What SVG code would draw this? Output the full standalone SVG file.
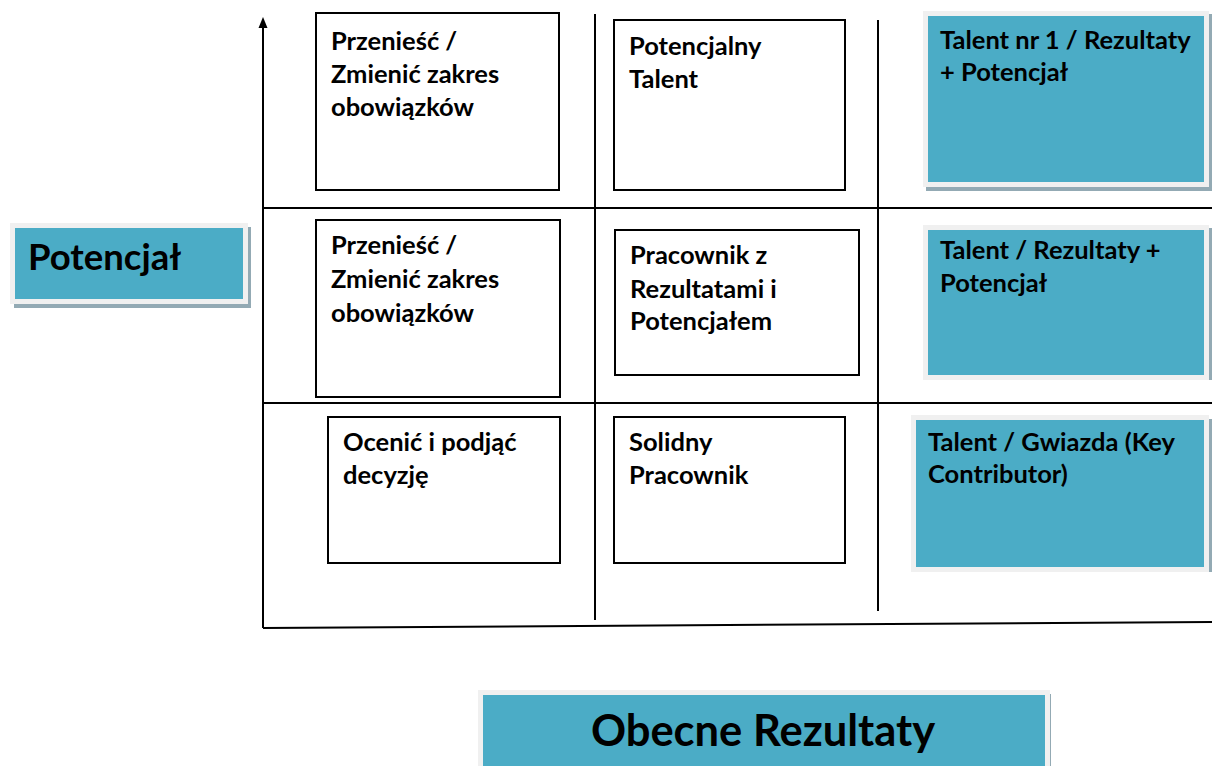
<svg xmlns="http://www.w3.org/2000/svg" width="1212" height="766" viewBox="0 0 1212 766">
<style>
.grid{stroke:#000;stroke-width:2;fill:none}
.box{fill:#fff;stroke:#000;stroke-width:2}
.blue{fill:#4bacc6;stroke:#f0f0f0;stroke-width:5}
.shadow{fill:#93aab4}
.t{font-family:Lato,"Noto Sans",sans-serif;font-weight:bold;font-size:25.5px;fill:#000}
.big{font-family:Lato,"Noto Sans",sans-serif;font-weight:bold;font-size:36.5px;fill:#000}
.huge{font-family:Lato,"Noto Sans",sans-serif;font-weight:bold;font-size:43.5px;fill:#000}
</style>
<rect width="1212" height="766" fill="#fff"/>
<g id="connectors">
<line class="grid" x1="263" y1="628" x2="263" y2="26"/>
<polygon points="263,17 258.5,28 267.5,28" fill="#000"/>
<line class="grid" x1="263" y1="628" x2="1212" y2="622"/>
<line class="grid" x1="263" y1="208" x2="1212" y2="208"/>
<line class="grid" x1="263" y1="403" x2="1212" y2="403"/>
<line class="grid" x1="595" y1="14" x2="595" y2="620"/>
<line class="grid" x1="878" y1="20" x2="878" y2="611"/>
</g>
<g id="n1"><rect class="box" x="316" y="13" width="243" height="177"/>
<text class="t" x="331" y="50">Przenieść /</text><text class="t" x="331" y="83">Zmienić zakres</text><text class="t" x="331" y="116">obowiązków</text></g>
<g id="n2"><rect class="box" x="614" y="20" width="231" height="170"/>
<text class="t" x="629" y="55">Potencjalny</text><text class="t" x="629" y="88">Talent</text></g>
<g id="n3"><rect class="shadow" x="926" y="14" width="286" height="177"/><rect class="blue" x="925.5" y="13.5" width="281" height="171"/>
<text class="t" x="940" y="49">Talent nr 1 / Rezultaty</text><text class="t" x="940" y="81">+ Potencjał</text></g>
<g id="n4"><rect class="box" x="316" y="220" width="244" height="177"/>
<text class="t" x="331" y="254">Przenieść /</text><text class="t" x="331" y="288">Zmienić zakres</text><text class="t" x="331" y="322">obowiązków</text></g>
<g id="n5"><rect class="box" x="615" y="230" width="244" height="145"/>
<text class="t" x="630" y="264">Pracownik z</text><text class="t" x="630" y="298">Rezultatami i</text><text class="t" x="630" y="330">Potencjałem</text></g>
<g id="n6"><rect class="shadow" x="926" y="228" width="286" height="152"/><rect class="blue" x="925.5" y="227.5" width="281" height="150"/>
<text class="t" x="940" y="259">Talent / Rezultaty +</text><text class="t" x="940" y="292">Potencjał</text></g>
<g id="n7"><rect class="box" x="328" y="417" width="232" height="146"/>
<text class="t" x="343" y="451">Ocenić i podjąć</text><text class="t" x="343" y="484">decyzję</text></g>
<g id="n8"><rect class="box" x="614" y="417" width="231" height="146"/>
<text class="t" x="629" y="451">Solidny</text><text class="t" x="629" y="484">Pracownik</text></g>
<g id="n9"><rect class="shadow" x="915" y="419" width="297" height="153"/><rect class="blue" x="913.5" y="417.5" width="293" height="152"/>
<text class="t" x="928" y="451">Talent / Gwiazda (Key</text><text class="t" x="928" y="483">Contributor)</text></g>
<g id="potencjal"><rect class="shadow" x="14" y="227" width="237" height="81"/><rect class="blue" x="12.5" y="225.5" width="233" height="76"/>
<text class="big" x="28" y="270">Potencjał</text></g>
<g id="obecne"><rect class="shadow" x="482" y="694" width="569" height="80"/><rect class="blue" x="480.5" y="692.5" width="567" height="80"/>
<text class="huge" x="763" y="746" text-anchor="middle">Obecne Rezultaty</text></g>
</svg>
